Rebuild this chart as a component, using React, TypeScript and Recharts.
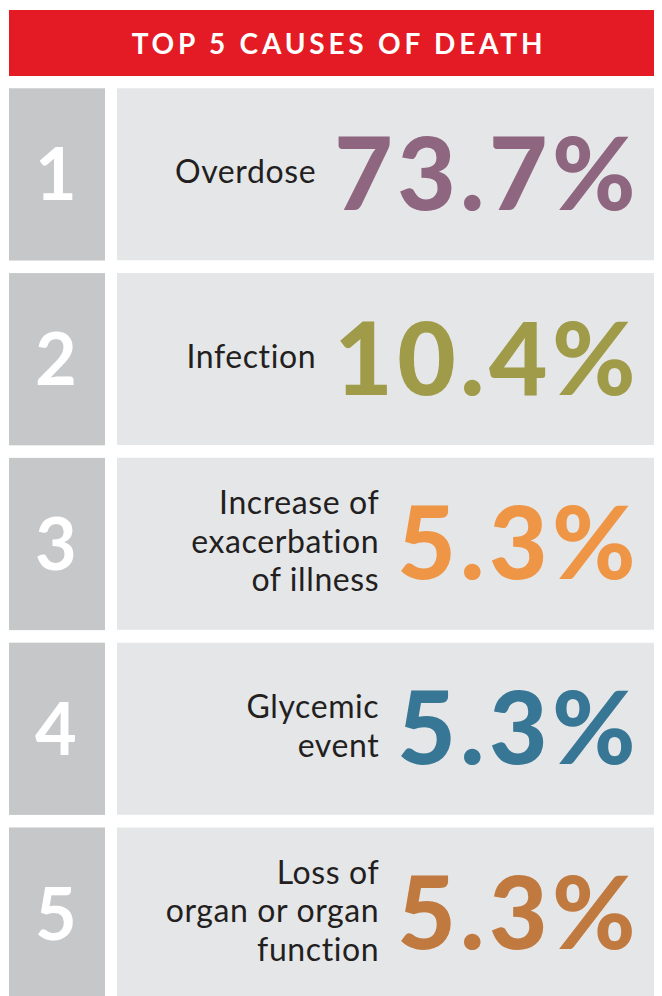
import { BarChart, Bar, XAxis, YAxis, LabelList } from "recharts";

const ranks = ["1", "2", "3", "4", "5"];
const causes = [
  ["Overdose"],
  ["Infection"],
  ["Increase of", "exacerbation", "of illness"],
  ["Glycemic", "event"],
  ["Loss of", "organ or organ", "function"],
];
const shares = [73.7, 10.4, 5.3, 5.3, 5.3];
const colors = ["#8e667f", "#a09b48", "#ef9546", "#377695", "#c07a40"];

const data = ranks.map((rank, i) => ({ rank, cause: causes[i], value: shares[i] }));

const W = 653;
const AXIS_W = 108;
const FONT = "Lato, 'Open Sans', sans-serif";

function RankTick(props: any) {
  const { y, payload } = props;
  const h = 172.25;
  return (
    <g>
      <rect x={0} y={y - h / 2} width={96} height={h} fill="#c6c7c9" />
      <text
        x={47}
        y={y}
        dy={26}
        textAnchor="middle"
        fill="#ffffff"
        fontFamily={FONT}
        fontWeight={700}
        fontSize={72}
      >
        {payload.value}
      </text>
    </g>
  );
}

function RowLabel(props: any) {
  const { x, y, height, index } = props;
  const d = data[index];
  return (
    <foreignObject x={x} y={y} width={W - x} height={height}>
      <div
        style={{
          width: "100%",
          height: "100%",
          display: "flex",
          alignItems: "center",
          justifyContent: "flex-end",
          paddingRight: 22,
          boxSizing: "border-box",
          fontFamily: FONT,
        }}
      >
        <div
          style={{
            textAlign: "right",
            fontSize: 32,
            lineHeight: "38.5px",
            letterSpacing: 0.6,
            color: "#231f20",
            marginRight: 18,
            transform: "translateY(-3px)",
          }}
        >
          {d.cause.map((line) => (
            <div key={line}>{line}</div>
          ))}
        </div>
        <div
          style={{
            fontSize: 101,
            fontWeight: 900,
            lineHeight: 1,
            letterSpacing: 4.5,
            color: colors[index],
            transform: "translateY(-3px)",
          }}
        >
          {d.value.toFixed(1)}%
        </div>
      </div>
    </foreignObject>
  );
}

export default function App() {
  return (
    <div style={{ marginLeft: 1, marginTop: 2, width: W }}>
      <div
        style={{
          height: 66,
          background: "#e41b24",
          color: "#ffffff",
          display: "flex",
          alignItems: "center",
          justifyContent: "center",
          paddingLeft: 7,
          boxSizing: "border-box",
          fontFamily: FONT,
          fontWeight: 700,
          fontSize: 28,
          letterSpacing: 3.8,
        }}
      >
        TOP 5 CAUSES OF DEATH
      </div>
      <div style={{ marginTop: 5.75, height: 914, overflow: "hidden" }}>
        <BarChart
          layout="vertical"
          width={W}
          height={924}
          data={data}
          margin={{ top: 0, right: 0, bottom: 0, left: 0 }}
          barCategoryGap={6.25}
        >
          <XAxis type="number" hide domain={[0, 100]} />
          <YAxis
            type="category"
            dataKey="rank"
            width={AXIS_W}
            axisLine={false}
            tickLine={false}
            tick={<RankTick />}
          />
          <Bar
            dataKey="value"
            fill="transparent"
            background={{ fill: "#e5e6e8" }}
            isAnimationActive={false}
          >
            <LabelList dataKey="value" content={<RowLabel />} />
          </Bar>
        </BarChart>
      </div>
    </div>
  );
}
